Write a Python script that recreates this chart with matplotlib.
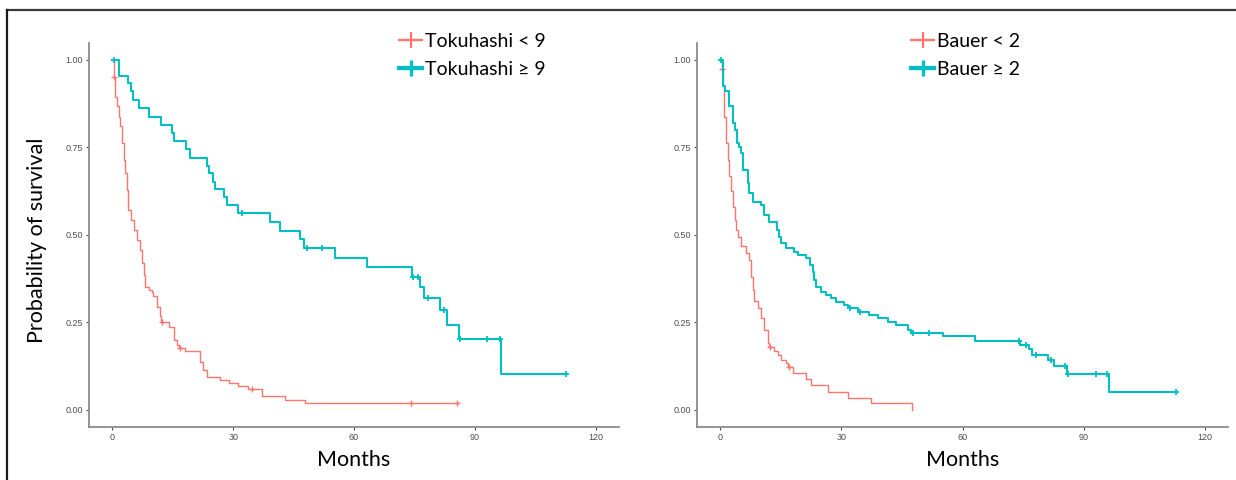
import numpy as np
import matplotlib
matplotlib.use("Agg")
import matplotlib.pyplot as plt
from matplotlib.lines import Line2D

plt.rcParams['font.family'] = ['Lato', 'DejaVu Sans']

RED = '#F8766D'
TEAL = '#00BFC4'

# Tokuhashi panel
tk_lo_t = [0, 0.3, 0.75, 1.2, 1.6, 2.0, 2.4, 2.8, 3.2, 3.6, 4.0, 4.6, 5.3, 6.1, 6.9, 7.4, 7.8,
           8.2, 9.0, 9.8, 10.2, 11.0, 11.9, 12.1, 14.0, 15.2, 16.0, 16.5, 18.1, 21.8, 22.6, 23.5,
           26.8, 28.9, 31.3, 33.8, 37.1, 42.9, 47.9, 85.5]
tk_lo_s = [1.0, 0.952, 0.895, 0.867, 0.838, 0.81, 0.762, 0.714, 0.676, 0.629, 0.571, 0.543, 0.514,
           0.486, 0.457, 0.419, 0.386, 0.352, 0.343, 0.338, 0.324, 0.295, 0.267, 0.252, 0.238, 0.2,
           0.186, 0.176, 0.167, 0.138, 0.114, 0.095, 0.086, 0.076, 0.067, 0.059, 0.041, 0.029,
           0.021, 0.021]
tk_lo_cens = [0.3, 12.3, 16.9, 34.6, 74.1, 85.5]

tk_hi_t = [0, 1.6, 3.8, 4.6, 5.1, 6.5, 9.0, 12.2, 14.8, 15.4, 18.3, 19.2, 23.5, 23.9, 25.1, 25.5,
           27.6, 28.4, 31.3, 39.2, 41.7, 46.6, 47.6, 55.3, 63.3, 74.3, 76.4, 77.4, 81.3, 83.1,
           86.1, 96.4, 112.7]
tk_hi_s = [1.0, 0.955, 0.933, 0.91, 0.886, 0.862, 0.838, 0.814, 0.79, 0.768, 0.745, 0.721, 0.697,
           0.676, 0.652, 0.63, 0.608, 0.584, 0.562, 0.536, 0.511, 0.489, 0.462, 0.433, 0.408,
           0.381, 0.352, 0.319, 0.286, 0.243, 0.202, 0.102, 0.102]
tk_hi_cens = [0.3, 32.3, 48.3, 52.0, 74.7, 76.0, 78.4, 82.3, 86.2, 93.1, 96.2, 112.7]

# Bauer panel
ba_lo_t = [0, 0.3, 0.6, 1.0, 1.4, 1.8, 2.2, 2.6, 3.0, 3.5, 3.9, 4.3, 5.1, 6.4, 7.2, 7.6, 8.0, 8.4,
           9.3, 10.1, 10.9, 11.7, 12.1, 13.4, 14.2, 15.0, 16.3, 16.8, 17.9, 21.2, 22.5, 26.6,
           31.6, 37.4, 47.5]
ba_lo_s = [1.0, 0.973, 0.924, 0.838, 0.762, 0.714, 0.667, 0.624, 0.581, 0.543, 0.514, 0.495,
           0.467, 0.448, 0.429, 0.381, 0.343, 0.31, 0.29, 0.262, 0.229, 0.19, 0.181, 0.167, 0.157,
           0.143, 0.133, 0.122, 0.105, 0.088, 0.071, 0.052, 0.035, 0.019, 0.0]
ba_lo_cens = [0.5, 12.3, 17.1]

ba_hi_t = [0, 0.6, 1.2, 2.2, 3.0, 3.7, 4.0, 4.7, 5.1, 5.5, 6.8, 7.2, 8.0, 10.1, 10.9, 12.1, 14.0,
           14.6, 15.0, 16.3, 18.3, 19.2, 21.2, 22.1, 22.9, 23.3, 23.7, 25.0, 26.2, 27.5, 28.7,
           30.7, 31.5, 34.0, 36.9, 39.0, 41.5, 43.6, 46.4, 47.3, 55.1, 63.2, 74.2, 76.4, 77.3,
           81.2, 82.8, 85.9, 96.3, 112.8]
ba_hi_s = [1.0, 0.924, 0.91, 0.867, 0.819, 0.8, 0.762, 0.752, 0.733, 0.686, 0.648, 0.619, 0.595,
           0.586, 0.557, 0.538, 0.514, 0.495, 0.476, 0.462, 0.452, 0.443, 0.433, 0.414, 0.395,
           0.371, 0.352, 0.338, 0.329, 0.319, 0.307, 0.3, 0.29, 0.281, 0.271, 0.262, 0.252,
           0.243, 0.229, 0.219, 0.21, 0.198, 0.186, 0.173, 0.157, 0.143, 0.126, 0.103, 0.052,
           0.052]
ba_hi_cens = [0.2, 32.0, 34.5, 47.7, 51.7, 74.0, 75.7, 78.1, 82.0, 85.5, 86.1, 93.0, 95.9, 112.8]

x_ticks = [0, 30, 60, 90, 120]
y_ticks = [0.0, 0.25, 0.5, 0.75, 1.0]
y_labels = ['0.00', '0.25', '0.50', '0.75', '1.00']

panels = [
    ('Tokuhashi < 9', 'Tokuhashi \u2265 9', tk_lo_t, tk_lo_s, tk_lo_cens, tk_hi_t, tk_hi_s, tk_hi_cens),
    ('Bauer < 2', 'Bauer \u2265 2', ba_lo_t, ba_lo_s, ba_lo_cens, ba_hi_t, ba_hi_s, ba_hi_cens),
]

W, H = 1236, 480
fig = plt.figure(figsize=(W / 100, H / 100), dpi=100)

ax_rects = [(89, 42.7, 619, 426.7), (697, 42.7, 1228, 426.7)]
legend_pos = [(399, 33), (911, 33)]


def step_value(t, s, x):
    i = np.searchsorted(t, x, side='right') - 1
    return np.asarray(s)[i]


for (lab_lo, lab_hi, t_lo, s_lo, c_lo, t_hi, s_hi, c_hi), (x0, y0, x1, y1), (lx, ly) in zip(
        panels, ax_rects, legend_pos):
    ax = fig.add_axes([x0 / W, 1 - y1 / H, (x1 - x0) / W, (y1 - y0) / H])
    ax.step(t_lo, s_lo, where='post', color=RED, lw=1.0)
    ax.plot(c_lo, step_value(t_lo, s_lo, c_lo), ls='none', marker='+', color=RED, ms=4, mew=1.0)
    ax.step(t_hi, s_hi, where='post', color=TEAL, lw=1.5)
    ax.plot(c_hi, step_value(t_hi, s_hi, c_hi), ls='none', marker='+', color=TEAL, ms=4, mew=1.3)

    ax.set_xlim(-5.8, 125.8)
    ax.set_ylim(-0.048, 1.049)
    ax.set_xticks(x_ticks)
    ax.set_yticks(y_ticks)
    ax.set_yticklabels(y_labels)
    ax.tick_params(labelsize=6.5, colors='#4d4d4d', length=2.5, width=0.8, pad=2)
    for lab in ax.get_xticklabels() + ax.get_yticklabels():
        lab.set_family(['Liberation Sans', 'DejaVu Sans'])
    for side in ['top', 'right']:
        ax.spines[side].set_visible(False)
    for side in ['left', 'bottom']:
        ax.spines[side].set_color('#8c8c8c')
        ax.spines[side].set_linewidth(1.3)
    ax.set_xlabel('Months', fontsize=15.5, labelpad=6)

    handles = [Line2D([], [], color=RED, lw=1.6, marker='+', ms=11, mew=1.6),
               Line2D([], [], color=TEAL, lw=3.0, marker='+', ms=11, mew=2.4)]
    fig.legend(handles, [lab_lo, lab_hi], loc='upper left',
               bbox_to_anchor=(lx / W, 1 - ly / H), frameon=False, fontsize=14,
               handlelength=1.2, handletextpad=0.15, labelspacing=0.55,
               borderpad=0, borderaxespad=0)

fig.text(37 / W, 1 - 240 / H, 'Probability of survival', rotation=90, fontsize=15.5,
         ha='center', va='center')

# thin frame at top and left of the image
fig.add_artist(Line2D([7 / W, 1], [1 - 10 / H, 1 - 10 / H], color='#3a3a3a', lw=1.6))
fig.add_artist(Line2D([7 / W, 7 / W], [0, 1 - 10 / H], color='#1a1a1a', lw=1.6))

fig.savefig('out.png', dpi=100)
